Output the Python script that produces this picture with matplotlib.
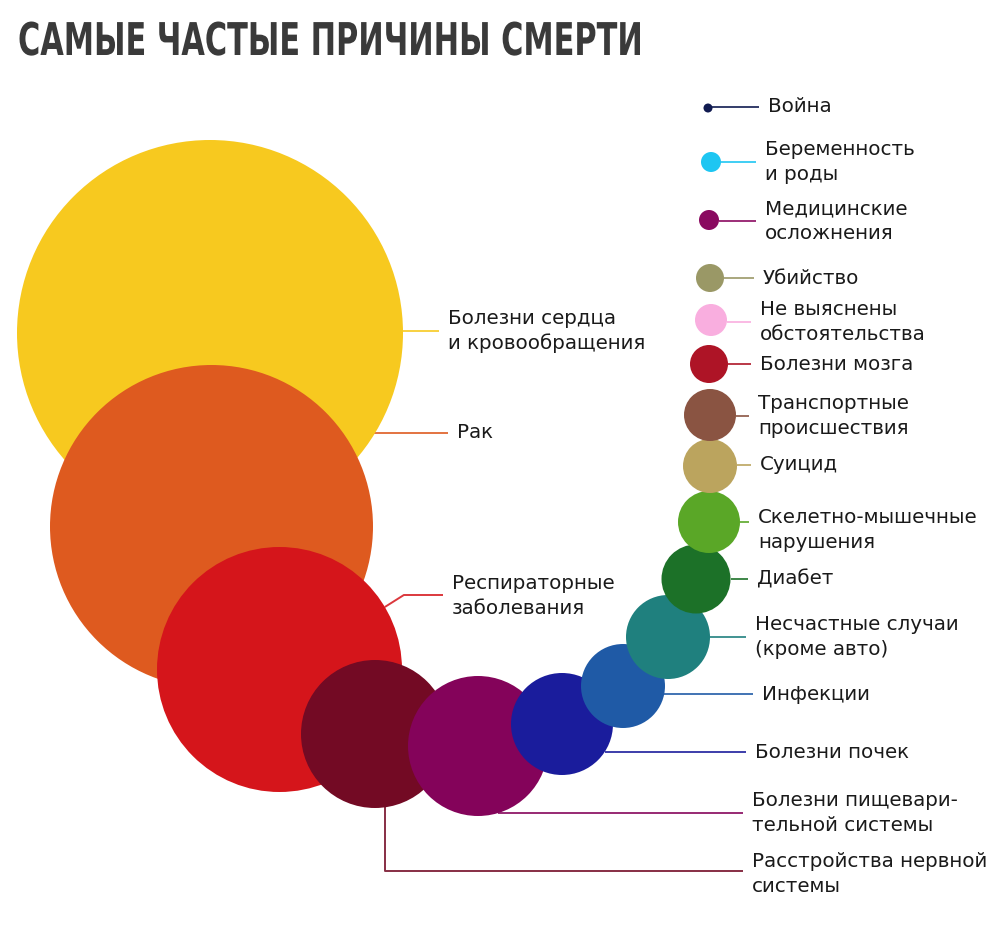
import matplotlib
matplotlib.use("Agg")
import matplotlib.pyplot as plt
from matplotlib.patches import Circle
from matplotlib.patheffects import AbstractPathEffect
from matplotlib.transforms import Affine2D
from matplotlib import font_manager
import numpy as np

# --- data: causes, bubble centres / radii (px of the original layout), colours
causes = ["Болезни сердца\nи кровообращения", "Рак", "Респираторные\nзаболевания",
          "Расстройства нервной\nсистемы", "Болезни пищевари-\nтельной системы",
          "Болезни почек", "Инфекции", "Несчастные случаи\n(кроме авто)", "Диабет",
          "Скелетно-мышечные\nнарушения", "Суицид", "Транспортные\nпроисшествия",
          "Болезни мозга", "Не выяснены\nобстоятельства", "Убийство",
          "Медицинские\nосложнения", "Беременность\nи роды", "Война"]
bubble_x = [210, 211.5, 279.5, 375, 478, 562, 623, 668, 696, 709, 710, 710, 709, 711, 710, 709, 711, 708]
bubble_y = [333, 526.5, 669.5, 734, 746, 724, 686, 637, 579, 522, 466, 415, 364, 320, 278, 220, 162, 108]
bubble_r = [193, 161.5, 122.5, 74, 70, 51, 42, 42, 34.5, 31, 27, 26, 19, 16, 14, 10, 10, 4.5]
colors = ["#F7C91F", "#DE5A1F", "#D5151B", "#730A24", "#84035A", "#1A1C9C", "#1F5AA6",
          "#1F807E", "#1C7128", "#5AA727", "#BBA45E", "#8A5442", "#AE1426", "#F9AEDF",
          "#9A9866", "#8A0A60", "#1EC6F2", "#101A50"]

# label anchors (left x, centre y)
label_x = [448, 457, 452, 752, 752, 755, 762, 755, 757, 758, 760, 758, 760, 760, 763, 765, 765, 768]
label_y = [331, 433, 596, 874, 813, 752, 694, 637, 579, 530, 465, 416, 364, 322, 278, 221, 162, 107]


class Squeeze(AbstractPathEffect):
    """narrow the glyphs horizontally around x0 (display px)"""
    def __init__(self, sx, x0):
        super().__init__()
        self.sx, self.x0 = sx, x0

    def draw_path(self, renderer, gc, tpath, affine, rgbFace=None):
        t = affine + Affine2D().translate(-self.x0, 0).scale(self.sx, 1).translate(self.x0, 0)
        renderer.draw_path(gc, tpath, t, rgbFace)


fig = plt.figure(figsize=(10, 9.32), dpi=100)
ax = fig.add_axes([0, 0, 1, 1])
ax.set_xlim(0, 1000)
ax.set_ylim(932, 0)
ax.axis("off")

for i in range(len(causes)):
    ax.add_patch(Circle((bubble_x[i], bubble_y[i]), bubble_r[i],
                        facecolor=colors[i], edgecolor="none", zorder=2 + i))

# leader lines + labels
for i in range(len(causes)):
    cx, cy, r = bubble_x[i], bubble_y[i], bubble_r[i]
    ly = label_y[i]
    end = label_x[i] - 9
    if i == 1:      # Рак: short diagonal from the orange circle
        y0 = 447
        x0 = cx + np.sqrt(r ** 2 - (y0 - cy) ** 2)
        xs, ys = [x0, x0 + 22, end], [y0, ly, ly]
    elif i == 2:    # Респираторные
        y0 = 607
        x0 = cx + np.sqrt(r ** 2 - (y0 - cy) ** 2)
        xs, ys = [x0, x0 + 19, end], [y0, ly - 1, ly - 1]
    elif i == 3:    # nervous: down from the bottom, then right
        xv = cx + 10
        y0 = cy + np.sqrt(r ** 2 - 10 ** 2)
        xs, ys = [xv, xv, end], [y0, ly - 3, ly - 3]
    elif i == 9:
        x0 = cx + r
        xs, ys = [x0, end], [cy, cy]
    else:
        x0 = cx + np.sqrt(max(r ** 2 - (ly - cy) ** 2, 0))
        xs, ys = [x0, end], [ly, ly]
    ax.plot(xs, ys, color=colors[i], lw=1.4, alpha=0.85, zorder=1,
            solid_capstyle="butt")
    ax.text(label_x[i], ly, causes[i], ha="left", va="center", fontsize=14.3,
            color="#1a1a1a", linespacing=1.35, family="DejaVu Sans", zorder=30)

# title: bold face, narrowed to the width of the original condensed lettering
fonts = font_manager.fontManager.ttflist
title_kw = dict(family="DejaVu Sans", weight="bold")
if any(f.name == "DejaVu Sans" and f.stretch == "condensed" for f in fonts):
    title_kw = dict(family="DejaVu Sans", weight="bold", stretch="condensed")

title = fig.text(18 / 1000, 1 - 55 / 932, "САМЫЕ ЧАСТЫЕ ПРИЧИНЫ СМЕРТИ", ha="left",
                 va="baseline", fontsize=32.5, color="#3a3a3a", **title_kw)
renderer = fig.canvas.get_renderer()
w = title.get_window_extent(renderer).width
title.set_path_effects([Squeeze(625 / w, 18)])

fig.savefig("out.png", dpi=100, facecolor="white")
